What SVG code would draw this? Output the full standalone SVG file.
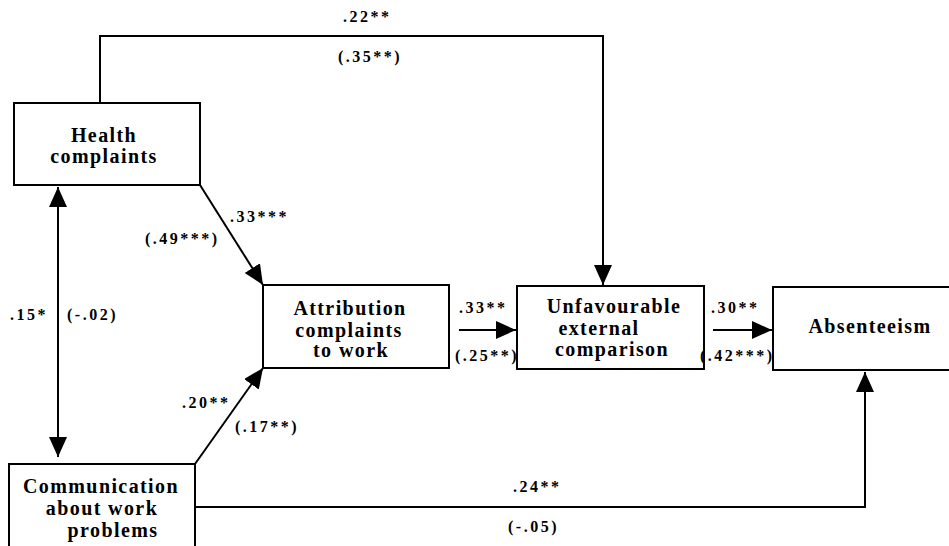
<svg xmlns="http://www.w3.org/2000/svg" width="949" height="546" viewBox="0 0 949 546">
  <style>
    .box { fill: #fff; stroke: #000; stroke-width: 2; }
    .node { font-family: "Liberation Serif", "Times New Roman", serif; font-weight: bold; font-size: 20px; letter-spacing: 1.4px; fill: #000; text-anchor: middle; }
    .lbl { font-family: "Liberation Serif", "Times New Roman", serif; font-weight: bold; font-size: 16px; letter-spacing: 2.5px; fill: #000; }
    .edge { fill: none; stroke: #000; stroke-width: 2; }
  </style>
  <defs>
    <marker id="arrow" markerUnits="userSpaceOnUse" markerWidth="21" markerHeight="19" refX="20" refY="9" orient="auto-start-reverse">
      <path d="M0,0 L20,9 L0,18 z" fill="#000"/>
    </marker>
  </defs>
  <rect width="949" height="546" fill="#fff"/>

  <!-- connectors -->
  <g id="connectors">
    <path class="edge" d="M100,103 V36 H603 V285" marker-end="url(#arrow)"/>
    <line class="edge" x1="58" y1="187" x2="58" y2="457" marker-start="url(#arrow)" marker-end="url(#arrow)"/>
    <line class="edge" x1="200" y1="185" x2="263" y2="285" marker-end="url(#arrow)"/>
    <line class="edge" x1="195" y1="464" x2="263" y2="368" marker-end="url(#arrow)"/>
    <line class="edge" x1="459" y1="330" x2="516" y2="330" marker-end="url(#arrow)"/>
    <line class="edge" x1="713" y1="330" x2="772" y2="330" marker-end="url(#arrow)"/>
    <path class="edge" d="M195,507 H865 V372" marker-end="url(#arrow)"/>
  </g>

  <!-- nodes -->
  <g id="health">
    <rect class="box" x="14" y="103" width="186" height="82"/>
    <text class="node" x="104" y="142">Health</text>
    <text class="node" x="104" y="163">complaints</text>
  </g>
  <g id="attribution">
    <rect class="box" x="263" y="285" width="186" height="83"/>
    <text class="node" x="350" y="315">Attribution</text>
    <text class="node" x="349" y="337">complaints</text>
    <text class="node" x="351" y="357">to work</text>
  </g>
  <g id="communication">
    <rect class="box" x="9" y="464" width="186" height="100"/>
    <text class="node" x="101" y="493">Communication</text>
    <text class="node" x="102" y="515">about work</text>
    <text class="node" x="113" y="537">problems</text>
  </g>
  <g id="unfavourable">
    <rect class="box" x="517" y="286" width="187" height="83"/>
    <text class="node" x="614" y="313">Unfavourable</text>
    <text class="node" x="599" y="335">external</text>
    <text class="node" x="612" y="356">comparison</text>
  </g>
  <g id="absenteeism">
    <rect class="box" x="773" y="287" width="190" height="83"/>
    <text class="node" x="870" y="333">Absenteeism</text>
  </g>

  <!-- path coefficients -->
  <g id="labels">
    <text class="lbl" x="343" y="22">.22**</text>
    <text class="lbl" x="338" y="62">(.35**)</text>
    <text class="lbl" x="230" y="222">.33***</text>
    <text class="lbl" x="145" y="244">(.49***)</text>
    <text class="lbl" x="10" y="320">.15*</text>
    <text class="lbl" x="67" y="320">(-.02)</text>
    <text class="lbl" x="182" y="408">.20**</text>
    <text class="lbl" x="235" y="432">(.17**)</text>
    <text class="lbl" x="459" y="313">.33**</text>
    <text class="lbl" x="455" y="361">(.25**)</text>
    <text class="lbl" x="711" y="313">.30**</text>
    <text class="lbl" x="700" y="361">(.42***)</text>
    <text class="lbl" x="513" y="492">.24**</text>
    <text class="lbl" x="508" y="532">(-.05)</text>
  </g>
</svg>
